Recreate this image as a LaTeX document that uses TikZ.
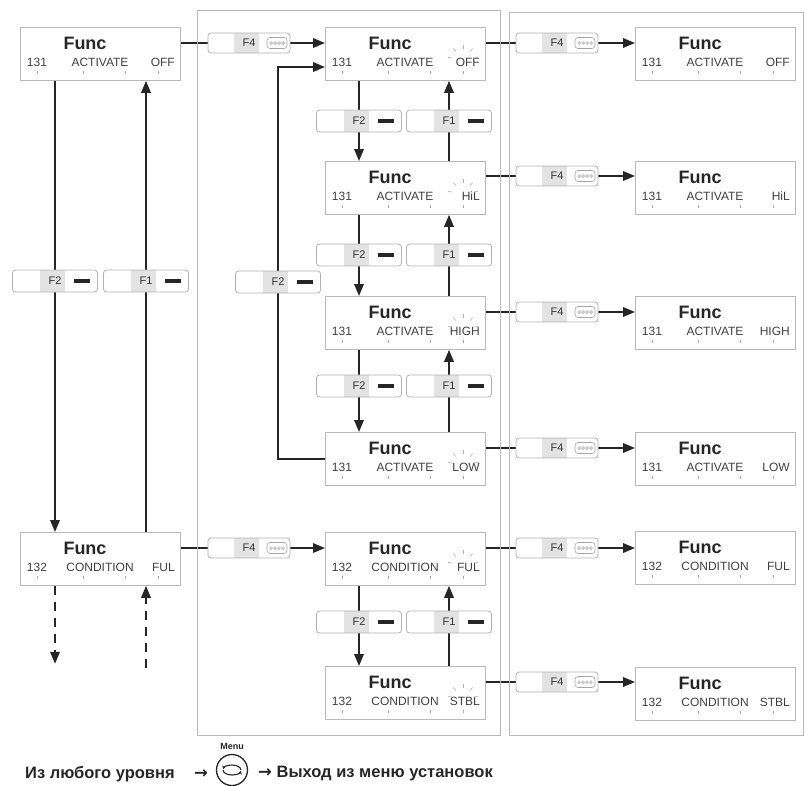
\documentclass[tikz,border=0pt]{standalone}
\usepackage{fontspec}
\setmainfont{Liberation Sans}
\newfontfamily\arrowfont{DejaVu Sans}
\usetikzlibrary{calc,arrows.meta}
\pgfdeclarelayer{bg}
\pgfsetlayers{bg,main}
\tikzset{
 dispbox/.style={draw=gray!55, line width=0.8pt, fill=white, minimum width=160pt, minimum height=53pt, inner sep=0pt, anchor=north west},
 functxt/.style={font=\fontsize{18}{18}\selectfont\bfseries, inner sep=0pt, text=black!85},
 lbl/.style={font=\fontsize{12}{12}\selectfont, inner sep=0pt, text=black!75},
 tickmark/.style={gray!70, line width=0.8pt},
 ray/.style={gray!60, line width=0.6pt},
 panel/.style={draw=gray!55, line width=0.9pt},
 conn/.style={black!85, line width=1.8pt},
 arr/.style={conn, -{Triangle[length=12pt,width=9.5pt]}},
 dasharr/.style={arr, dash pattern=on 9pt off 7pt},
 btnbase/.style={draw=gray!60, line width=0.8pt, fill=white, rounded corners=3pt, inner sep=0pt, text=black!80, font=\fontsize{11}{11}\selectfont},
 btn/.style={btnbase, minimum width=85pt, minimum height=22pt,
   path picture={
     \fill[gray!22, sharp corners] ([xshift=-15pt]path picture bounding box.south) rectangle ([xshift=10pt]path picture bounding box.north);
     \fill[black!85, sharp corners] ([xshift=19pt,yshift=-2pt]path picture bounding box.center) rectangle ([xshift=35pt,yshift=2pt]path picture bounding box.center);
   }},
 btnf/.style={btnbase, minimum width=82pt, minimum height=20pt,
   path picture={
     \fill[gray!22, sharp corners] ([xshift=-15pt]path picture bounding box.south) rectangle ([xshift=10pt]path picture bounding box.north);
     \draw[gray!70, line width=0.6pt, rounded corners=3pt] ([xshift=18pt,yshift=-5.5pt]path picture bounding box.center) rectangle ([xshift=38pt,yshift=5.5pt]path picture bounding box.center);
     \foreach \i in {0,1,2,3} \draw[gray!80, line width=0.5pt] ([xshift={(22+\i*4)*1pt}]path picture bounding box.center) circle[radius=1.4pt];
   }},
 bot/.style={font=\fontsize{16.5}{16.5}\selectfont\bfseries, inner sep=0pt, text=black!85},
}
\newcommand\disp[7]{%
 \node[dispbox] (#1) at (#2,#3) {};
 \node[functxt] (#1-f) at ($(#1.north west)+(65,16)$) {Func};
 \node[lbl] (#1-n) at ($(#1.north west)+(17,35)$) {#4};
 \node[lbl] (#1-m) at ($(#1.north west)+(80,35)$) {#5};
 \node[lbl,anchor=east] (#1-v) at ($(#1.north west)+(155,35)$) {#6};
 \foreach \tx in {17,63,105,138} \draw[tickmark] ($(#1.north west)+(\tx,44)$) -- ++(0,3);
 \ifnum#7=1 \foreach \a in {-10,-50,-90,-130,-170} \draw[ray] ($(#1.north west)+(138,33)$) ++(\a:11) -- ++(\a:4);\fi
}
\begin{document}
\begin{tikzpicture}[x=1pt,y=-1pt]
\useasboundingbox (0,0) rectangle (805,785);
% panels
\draw[panel] (197,10) rectangle (500,735);
\draw[panel] (509,12) rectangle (803,735);
% displays
\disp{L1}{20}{27}{131}{ACTIVATE}{OFF}{0}
\disp{L5}{20}{532}{132}{CONDITION}{FUL}{0}
\disp{M1}{325}{27}{131}{ACTIVATE}{OFF}{1}
\disp{M2}{325}{161}{131}{ACTIVATE}{HiL}{1}
\disp{M3}{325}{296}{131}{ACTIVATE}{HIGH}{1}
\disp{M4}{325}{432}{131}{ACTIVATE}{LOW}{1}
\disp{M5}{325}{532}{132}{CONDITION}{FUL}{1}
\disp{M6}{325}{666}{132}{CONDITION}{STBL}{1}
\disp{R1}{635}{27}{131}{ACTIVATE}{OFF}{0}
\disp{R2}{635}{161}{131}{ACTIVATE}{HiL}{0}
\disp{R3}{635}{296}{131}{ACTIVATE}{HIGH}{0}
\disp{R4}{635}{432}{131}{ACTIVATE}{LOW}{0}
\disp{R5}{635}{531}{132}{CONDITION}{FUL}{0}
\disp{R6}{635}{667}{132}{CONDITION}{STBL}{0}
% buttons
\node[btn] (bL2) at (55,281) {F2};
\node[btn] (bL1) at (146,281) {F1};
\node[btn] (bMF) at (278,282) {F2};
\node[btnf] (bA1) at (249,43) {F4};
\node[btnf] (bA5) at (249,548) {F4};
\foreach \n/\y in {12/121,23/255,34/386,56/622}{
  \node[btn] (bD\n) at (359,\y) {F2};
  \node[btn] (bU\n) at (449,\y) {F1};
}
\foreach \n/\y in {1/43,2/176,3/312,4/448,5/548,6/682}{
  \node[btnf] (bR\n) at (557,\y) {F4};
}
\coordinate (M1in) at ($(M1.north west)+(0,40)$);
\coordinate (dd) at ($(L5.south -| bL2)+(0,78)$);
\coordinate (du) at ($(L5.south -| bL1)+(0,82)$);
% bottom line
\node[bot, anchor=west] (t1) at (25,774) {Из любого уровня};
\node[bot] (a1) at (201,774) {\arrowfont →};
\node[draw=black!85, circle, line width=1.3pt, minimum size=31pt, inner sep=0pt] (menu) at (232,770) {};
\node[font=\fontsize{9}{9}\selectfont\bfseries, inner sep=0pt, text=black!85] (menuL) at (232,746) {Menu};
\draw[black!85, line width=1.1pt, -{Stealth[length=3.5pt,width=4pt]}] ($(menu.center)+(-9,0)$) arc[start angle=180, end angle=10, x radius=9, y radius=5];
\draw[black!85, line width=1.1pt, -{Stealth[length=3.5pt,width=4pt]}] ($(menu.center)+(9,0)$) arc[start angle=0, end angle=-170, x radius=9, y radius=5];
\node[bot, anchor=west] (t2) at (258,774) {{\arrowfont →} Выход из меню установок};
% connectors
\begin{pgfonlayer}{bg}
\draw[arr] (L1.south -| bL2) -- (L5.north -| bL2);
\draw[arr] (L5.north -| bL1) -- (L1.south -| bL1);
\draw[dasharr] (L5.south -| bL2) -- (dd);
\draw[dasharr] (du) -- (L5.south -| bL1);
\draw[arr] (L1.east |- bA1) -- (M1.west |- bA1);
\draw[arr] (L5.east |- bA5) -- (M5.west |- bA5);
\draw[arr] (M4.west) -- (M4.west -| bMF) -- (bMF |- M1in) -- (M1in);
\foreach \a/\b/\n in {M1/M2/12,M2/M3/23,M3/M4/34,M5/M6/56}{
  \draw[arr] (\a.south -| bD\n) -- (\b.north -| bD\n);
  \draw[arr] (\b.north -| bU\n) -- (\a.south -| bU\n);
}
\foreach \i in {1,...,6}{
  \draw[arr] (M\i.east |- bR\i) -- (R\i.west |- bR\i);
}
\end{pgfonlayer}
\end{tikzpicture}
\end{document}
